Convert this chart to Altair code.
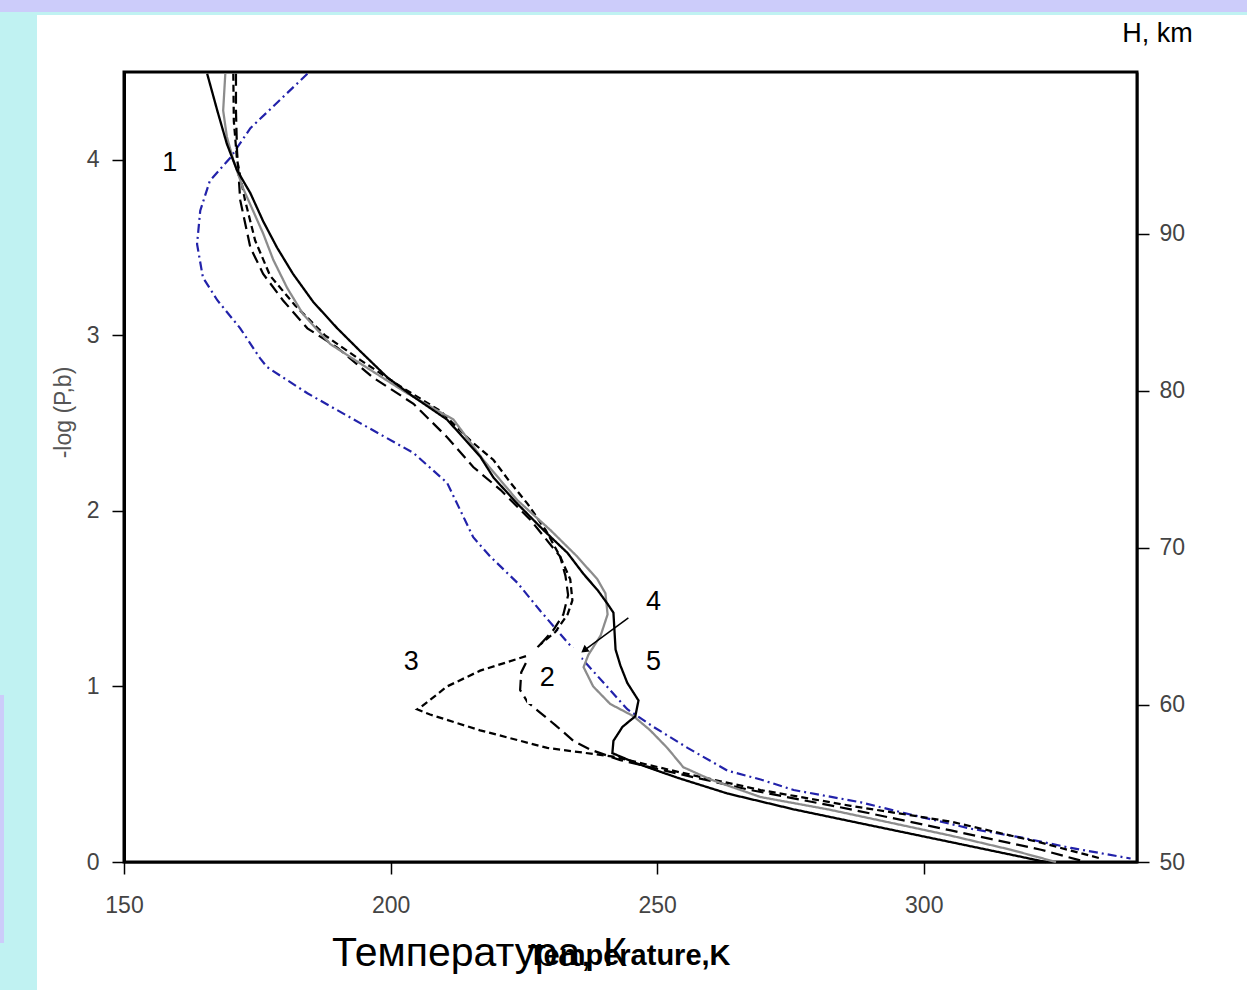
import altair as alt
import pandas as pd

# ---------------- data ----------------
# Curve 1 (blue dash-dot)
c1_T = [184.4, 173.7, 169.9, 166.1, 164.3, 163.7, 164.8, 167.5, 171.8, 175.5, 176.8, 184.4, 194.3,
        204.3, 210.6, 215.5, 218.7, 223.8, 228.1, 233.2, 244.4, 249.3, 255.7, 263.2, 269.4, 275.6,
        288.2, 296.2, 308.8, 318.2, 327.6, 338.8]
c1_P = [4.49, 4.18, 4.01, 3.88, 3.71, 3.52, 3.33, 3.20, 3.04, 2.87, 2.82, 2.67, 2.50,
        2.33, 2.16, 1.85, 1.74, 1.59, 1.43, 1.25, 0.87, 0.77, 0.65, 0.52, 0.47, 0.41,
        0.34, 0.28, 0.19, 0.14, 0.08, 0.02]
# Curve 2 (long dash, loop around label 2)
c2_T = [171.0, 171.0, 171.2, 171.8, 173.7, 176.1, 179.8, 184.4, 190.0, 196.7, 204.3, 210.6, 215.5,
        220.6, 226.2, 231.8, 232.8, 233.3, 232.4, 230.5, 228.1, 225.8, 224.5, 224.3, 225.7, 228.1,
        230.9, 234.3, 237.5, 243.1, 254.4, 267.5, 286.3, 305.1, 322.0, 330.4]
c2_P = [4.49, 4.28, 4.05, 3.77, 3.50, 3.35, 3.20, 3.04, 2.93, 2.76, 2.61, 2.42, 2.25,
        2.12, 1.95, 1.74, 1.63, 1.52, 1.41, 1.32, 1.24, 1.16, 1.08, 0.98, 0.91, 0.85,
        0.78, 0.69, 0.64, 0.58, 0.50, 0.41, 0.30, 0.18, 0.07, 0.00]
# Curve 3 (short dash, triangle)
c3_T = [170.5, 170.6, 171.2, 172.7, 174.6, 177.4, 182.1, 187.7, 194.3, 201.8, 209.3, 215.0, 219.3,
        222.5, 225.7, 229.1, 231.8, 233.7, 234.1, 233.2, 230.9, 228.1, 226.2, 216.8, 210.6, 205.6,
        205.0, 207.4, 216.8, 229.4, 241.8, 254.4, 269.4, 286.3, 305.1, 322.0, 333.2]
c3_P = [4.49, 4.22, 4.00, 3.77, 3.54, 3.34, 3.17, 3.00, 2.86, 2.71, 2.57, 2.40, 2.29,
        2.16, 2.04, 1.89, 1.74, 1.61, 1.49, 1.41, 1.31, 1.24, 1.18, 1.09, 1.00, 0.88,
        0.87, 0.84, 0.75, 0.65, 0.60, 0.51, 0.41, 0.32, 0.23, 0.11, 0.02]
# Curve 4 (grey solid)
c4_T = [169.0, 168.6, 169.3, 170.5, 172.3, 174.2, 176.1, 178.0, 180.6, 183.6, 188.7, 194.3, 203.1,
        211.8, 217.4, 223.8, 230.0, 235.0, 238.8, 240.3, 240.7, 239.4, 237.1, 236.2, 238.0, 241.2,
        245.6, 248.7, 251.9, 254.9, 260.0, 269.4, 282.0, 288.2, 305.1, 316.3, 324.8]
c4_P = [4.49, 4.28, 4.13, 4.00, 3.84, 3.71, 3.58, 3.43, 3.27, 3.12, 2.95, 2.84, 2.67,
        2.52, 2.29, 2.06, 1.89, 1.74, 1.61, 1.53, 1.41, 1.29, 1.18, 1.11, 1.00, 0.90,
        0.83, 0.75, 0.65, 0.54, 0.47, 0.37, 0.30, 0.26, 0.15, 0.07, 0.00]
# Curve 5 (black solid)
c5_T = [165.6, 167.5, 169.3, 171.2, 173.7, 176.1, 178.7, 181.7, 185.5, 190.0, 194.3, 199.4, 204.3,
        210.6, 216.8, 219.3, 223.8, 228.7, 233.2, 236.2, 238.8, 240.7, 241.8, 242.2, 243.1, 244.4,
        246.5, 245.9, 243.5, 241.8, 241.6, 246.3, 253.8, 263.2, 275.6, 288.2, 305.6, 318.2, 322.9]
c5_P = [4.49, 4.28, 4.09, 3.94, 3.81, 3.65, 3.50, 3.35, 3.19, 3.04, 2.91, 2.76, 2.65,
        2.52, 2.31, 2.19, 2.04, 1.89, 1.76, 1.64, 1.55, 1.47, 1.42, 1.21, 1.12, 1.02,
        0.92, 0.83, 0.77, 0.69, 0.62, 0.56, 0.48, 0.39, 0.30, 0.22, 0.11, 0.03, 0.00]

curve_names = ["1", "2", "3", "4", "5"]
curve_colors = ["#2222aa", "#000000", "#000000", "#8c8c8c", "#000000"]
curve_dash = [[9, 4, 2, 4], [12, 6], [7, 4], [1, 0], [1, 0]]
curve_width = [2.2, 2.3, 2.5, 3.5, 2.3]

# annotation labels
lab_text = ["1", "2", "3", "4", "5"]
lab_T = [158.6, 229.4, 203.9, 249.3, 249.3]
lab_P = [3.98, 1.05, 1.14, 1.48, 1.14]

# white label box behind "2"
box_T = [225.6]; box_T2 = [235.8]; box_P = [0.90]; box_P2 = [1.22]

# arrow for "4"
arr_T = [244.6]; arr_P = [1.39]; arr_T2 = [236.5]; arr_P2 = [1.21]

# axis values
x_ticks = [150, 200, 250, 300]
y_ticks = [0, 1, 2, 3, 4]
h_ticks = [50, 60, 70, 80, 90]
h_domain = [50, 100.3]

# ---------------- build tables ----------------
rows = []
for name, Ts, Ps in zip(curve_names, [c1_T, c2_T, c3_T, c4_T, c5_T], [c1_P, c2_P, c3_P, c4_P, c5_P]):
    for i, (t, p) in enumerate(zip(Ts, Ps)):
        rows.append({"curve": name, "i": i, "T": t, "P": p})
df = pd.DataFrame(rows)

FONT = "Liberation Sans, Arial, sans-serif"

xscale = alt.Scale(domain=[150, 340], nice=False, zero=False)
yscale = alt.Scale(domain=[0, 4.5], nice=False, zero=False)

x_enc = alt.X("T:Q", scale=xscale, axis=alt.Axis(
    values=x_ticks, format="d", title=None, grid=False, tickSize=12, tickColor="black", tickWidth=1.5,
    domainColor="black", domainWidth=2, labelColor="#444", labelFont=FONT, labelFontSize=23,
    labelPadding=20, labelFlush=False))
y_enc = alt.Y("P:Q", scale=yscale, axis=alt.Axis(
    values=y_ticks, format="d", title="-log (P,b)", grid=False, tickSize=12, tickColor="black",
    tickWidth=1.5, domainColor="black", domainWidth=3, labelColor="#444", labelFont=FONT,
    labelFontSize=23, labelPadding=13, labelFlush=False, titleFont=FONT, titleFontSize=23,
    titleFontWeight="normal", titleColor="#555", titleAngle=-90, titleX=-61, titleY=340,
    titleAlign="center", titleBaseline="middle"))

# decorative page background panels (pixel offsets from plot origin)
deco = alt.layer(
    alt.Chart(pd.DataFrame({"a": [0]})).mark_rect(color="#c0f2f2").encode(
        x=alt.value(-124), x2=alt.value(-87), y=alt.value(-72), y2=alt.value(918)),
    alt.Chart(pd.DataFrame({"a": [0]})).mark_rect(color="#c0f2f2").encode(
        x=alt.value(-124), x2=alt.value(1123), y=alt.value(-72), y2=alt.value(-57)),
    alt.Chart(pd.DataFrame({"a": [0]})).mark_rect(color="#ccccfa").encode(
        x=alt.value(-124), x2=alt.value(1123), y=alt.value(-72), y2=alt.value(-60)),
    alt.Chart(pd.DataFrame({"a": [0]})).mark_rect(color="#ccccfa").encode(
        x=alt.value(-124), x2=alt.value(-120), y=alt.value(623), y2=alt.value(871)),
)

lines = alt.Chart(df).mark_line(strokeCap="butt").encode(
    x=x_enc, y=y_enc, order="i:Q",
    color=alt.Color("curve:N", scale=alt.Scale(domain=curve_names, range=curve_colors), legend=None),
    strokeDash=alt.StrokeDash("curve:N", scale=alt.Scale(domain=curve_names, range=curve_dash), legend=None),
    strokeWidth=alt.StrokeWidth("curve:N", scale=alt.Scale(domain=curve_names, range=curve_width), legend=None),
)

box = alt.Chart(pd.DataFrame({"T": box_T, "T2": box_T2, "P": box_P, "P2": box_P2})).mark_rect(
    color="white").encode(x=alt.X("T:Q", scale=xscale), x2="T2:Q", y=alt.Y("P:Q", scale=yscale), y2="P2:Q")

arrow = alt.Chart(pd.DataFrame({"T": arr_T, "P": arr_P, "T2": arr_T2, "P2": arr_P2})).mark_rule(
    color="black", strokeWidth=1.5).encode(
    x=alt.X("T:Q", scale=xscale), x2="T2:Q", y=alt.Y("P:Q", scale=yscale), y2="P2:Q")
head = alt.Chart(pd.DataFrame({"T": arr_T2, "P": arr_P2})).mark_point(
    shape="triangle", filled=True, color="black", size=70, angle=233, opacity=1).encode(
    x=alt.X("T:Q", scale=xscale), y=alt.Y("P:Q", scale=yscale))

labels = alt.Chart(pd.DataFrame({"t": lab_text, "T": lab_T, "P": lab_P})).mark_text(
    font="Liberation Sans", fontSize=27, color="black", align="center", baseline="middle").encode(
    x=alt.X("T:Q", scale=xscale), y=alt.Y("P:Q", scale=yscale), text="t:N")

xtitle_ru = alt.Chart(pd.DataFrame({"t": ["Температура, К"]})).mark_text(
    font="Liberation Sans", fontSize=41, color="black", align="left", baseline="middle").encode(
    x=alt.value(208), y=alt.value(882), text="t:N")
xtitle_en = alt.Chart(pd.DataFrame({"t": ["Temperature,K"]})).mark_text(
    font="Liberation Sans", fontSize=29, fontWeight="bold", color="black", align="left",
    baseline="middle").encode(x=alt.value(404), y=alt.value(884), text="t:N")

main = alt.layer(deco, lines, box, arrow, head, labels, xtitle_ru, xtitle_en)

right = alt.Chart(pd.DataFrame({"H": h_domain})).mark_point(opacity=0).encode(
    y=alt.Y("H:Q", scale=alt.Scale(domain=h_domain, nice=False, zero=False), axis=alt.Axis(
        orient="right", values=h_ticks, format="d", title="H, km", grid=False, tickSize=12,
        tickColor="black", tickWidth=1.5, domainColor="black", domainWidth=2, labelColor="#444",
        labelFont=FONT, labelFontSize=23, labelPadding=10, labelFlush=False, titleFont=FONT,
        titleFontSize=27, titleFontWeight="normal", titleColor="black", titleAngle=0, titleX=20,
        titleY=-39, titleAlign="center", titleBaseline="middle")))

chart = alt.layer(main, right).resolve_scale(y="independent").properties(
    width=1013, height=790,
    padding={"left": 124, "top": 72, "right": 110, "bottom": 128},
    autosize=alt.AutoSizeParams(type="none"),
    background="white",
).configure_view(stroke="black", strokeWidth=3)

chart.save("out.html", embed_options={"renderer": "svg", "actions": False})
